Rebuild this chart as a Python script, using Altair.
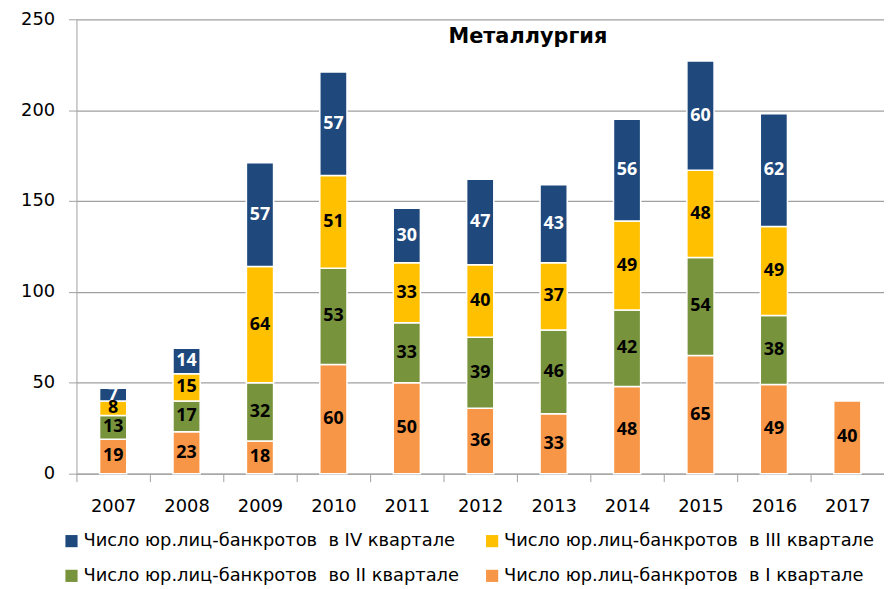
import altair as alt
import pandas as pd

years = ['2007', '2008', '2009', '2010', '2011', '2012', '2013', '2014', '2015', '2016', '2017']
q1 = [19, 23, 18, 60, 50, 36, 33, 48, 65, 49, 40]
q2 = [13, 17, 32, 53, 33, 39, 46, 42, 54, 38, None]
q3 = [8, 15, 64, 51, 33, 40, 37, 49, 48, 49, None]
q4 = [7, 14, 57, 57, 30, 47, 43, 56, 60, 62, None]

names = [
    "Число юр.лиц-банкротов \u00a0в IV квартале",
    "Число юр.лиц-банкротов \u00a0в III квартале",
    "Число юр.лиц-банкротов \u00a0во II квартале",
    "Число юр.лиц-банкротов \u00a0в I квартале",
]
colors = ["#1F497D", "#FFC000", "#77933C", "#F79646"]

rows = []
for series, name, rank in [(q1, names[3], 0), (q2, names[2], 1), (q3, names[1], 2), (q4, names[0], 3)]:
    for y, v in zip(years, series):
        if v is not None:
            rows.append({"year": y, "value": v, "series": name, "rank": rank})
df = pd.DataFrame(rows)

FONT = "DejaVu Sans"
LABEL_FONT = "Open Sans"

base = alt.Chart(df)

x_enc = alt.X(
    "year:N",
    title=None,
    scale=alt.Scale(paddingInner=0, paddingOuter=0),
    axis=alt.Axis(
        labelAngle=0, labelFontSize=18, labelColor="#000000", labelFont=FONT,
        tickBand="extent", tickSize=8, tickColor="#A0A0A0", domainColor="#A0A0A0",
        labelPadding=16, grid=False,
    ),
)

bars = base.mark_bar(width=alt.RelativeBandSize(0.37), stroke="white", strokeWidth=1.5).encode(
    x=x_enc,
    y=alt.Y(
        "sum(value):Q", title=None,
        scale=alt.Scale(domain=[0, 250], nice=False),
        axis=alt.Axis(
            values=[0, 50, 100, 150, 200, 250], labelFontSize=18, labelColor="#000000",
            labelFont=FONT, tickSize=8, tickColor="#A0A0A0", domainColor="#A0A0A0",
            gridColor="#A0A0A0", gridWidth=1.3, labelPadding=14,
        ),
    ),
    color=alt.Color(
        "series:N",
        scale=alt.Scale(domain=names, range=colors),
        legend=alt.Legend(
            title=None, orient="none", legendX=-14, legendY=517, columns=2,
            direction="horizontal",
            symbolType="square", symbolSize=150, symbolStrokeWidth=0,
            labelFontSize=18, labelFont=FONT, labelColor="#000000", labelLimit=0,
            labelOffset=3, columnPadding=24, rowPadding=17,
        ),
    ),
    order=alt.Order("rank:Q", sort="ascending"),
)

labels = base.transform_stack(
    stack="value", groupby=["year"], sort=[alt.SortField("rank", order="ascending")],
    as_=["v0", "v1"],
).transform_calculate(
    mid="(datum.v0 + datum.v1) / 2"
).mark_text(fontSize=18, fontWeight="bold", font=LABEL_FONT).encode(
    x=alt.X("year:N"),
    y=alt.Y("mid:Q"),
    text=alt.Text("value:Q"),
    color=alt.condition(alt.datum.rank == 3, alt.value("white"), alt.value("black")),
)

chart = alt.layer(bars, labels).properties(
    width=814,
    height=458,
    autosize=alt.AutoSizeParams(type="none"),
    padding={"left": 69, "top": 9, "right": 0, "bottom": 130},
    title=alt.TitleParams(
        "Металлургия", fontSize=21, fontWeight="bold", font=FONT, color="#000000",
        anchor="middle", baseline="middle", offset=0, dx=48, dy=48,
    ),
).configure_view(stroke=None)

chart.save("out.html", embed_options={"renderer": "svg", "actions": False})
